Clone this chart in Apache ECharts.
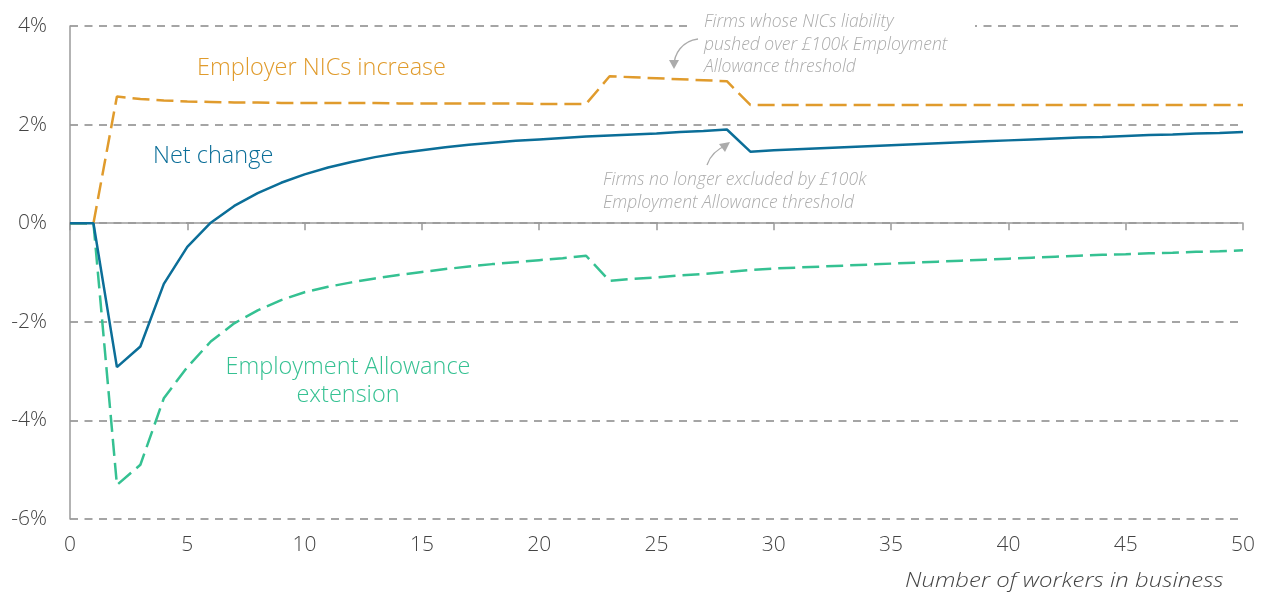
<!DOCTYPE html>
<html>
<head>
<meta charset="utf-8">
<title>Employer NICs vs Employment Allowance</title>
<script src="https://cdn.jsdelivr.net/npm/echarts@6/dist/echarts.min.js"></script>
<style>
  html, body { margin: 0; padding: 0; background: #fff; }
  #chart { width: 1269px; height: 594px; }
</style>
</head>
<body>
<div id="chart"></div>
<script>
// number of workers in business
const workers = Array.from({ length: 51 }, (_, i) => i)

const employerNics = [
  0, 0, 2.57, 2.52, 2.49, 2.47, 2.46, 2.45, 2.45, 2.44,
  2.44, 2.44, 2.44, 2.44, 2.43, 2.43, 2.43, 2.43, 2.43, 2.43,
  2.42, 2.42, 2.42, 2.98, 2.96, 2.94, 2.92, 2.90, 2.88, 2.40,
  2.40, 2.40, 2.40, 2.40, 2.40, 2.40, 2.40, 2.40, 2.40, 2.40,
  2.40, 2.40, 2.40, 2.40, 2.40, 2.40, 2.40, 2.40, 2.40, 2.40,
  2.40
]

const allowanceExt = [
  0, 0, -5.31, -4.90, -3.55, -2.92, -2.40, -2.03, -1.77, -1.56,
  -1.40, -1.29, -1.20, -1.12, -1.05, -0.99, -0.93, -0.88, -0.83, -0.79,
  -0.75, -0.71, -0.66, -1.17, -1.13, -1.10, -1.06, -1.03, -0.99, -0.95,
  -0.92, -0.90, -0.88, -0.86, -0.84, -0.82, -0.80, -0.78, -0.76, -0.74,
  -0.72, -0.70, -0.68, -0.66, -0.64, -0.63, -0.61, -0.60, -0.58, -0.57,
  -0.55
]

const netChange = [
  0, 0, -2.92, -2.50, -1.23, -0.48, 0.01, 0.35, 0.61, 0.82,
  0.99, 1.13, 1.24, 1.34, 1.42, 1.48, 1.54, 1.59, 1.63, 1.67,
  1.70, 1.73, 1.76, 1.78, 1.80, 1.82, 1.85, 1.87, 1.90, 1.45,
  1.48, 1.50, 1.52, 1.54, 1.56, 1.58, 1.60, 1.62, 1.64, 1.66,
  1.68, 1.70, 1.72, 1.74, 1.75, 1.77, 1.79, 1.80, 1.82, 1.83,
  1.85
]

const seriesNames = ['Employer NICs increase', 'Employment Allowance extension', 'Net change']
const colors = { nics: '#e09b2c', allowance: '#35c192', net: '#0b6e98' }

const font = '"Open Sans", "Noto Sans", sans-serif'
const annoColor = '#ababab'

const pair = (ys) => workers.map((x, i) => [x, ys[i]])

const chart = echarts.init(document.getElementById('chart'), null, { renderer: 'canvas' })

const option = {
  animation: false,
  backgroundColor: '#fff',
  textStyle: { fontFamily: font },
  grid: { left: 70, right: 26, top: 26, bottom: 75 },
  xAxis: [
    {
      // labels along the bottom
      type: 'value',
      min: 0,
      max: 50,
      interval: 5,
      axisLine: { show: false, onZero: false },
      axisTick: { show: false },
      splitLine: { show: false },
      axisLabel: { fontSize: 21, color: '#444', margin: 16, fontFamily: font, fontWeight: 300 }
    },
    {
      // axis line sitting on zero
      type: 'value',
      position: 'bottom',
      min: 0,
      max: 50,
      interval: 5,
      axisLine: { show: true, onZero: true, lineStyle: { color: '#9a9a9a', width: 1.5 } },
      axisTick: { show: true, length: 7, lineStyle: { color: '#9a9a9a', width: 1.5 } },
      axisLabel: { show: false },
      splitLine: { show: false }
    }
  ],
  yAxis: {
    type: 'value',
    min: -6,
    max: 4,
    interval: 2,
    axisLine: { show: true, lineStyle: { color: '#9a9a9a', width: 1.5 } },
    axisTick: { show: false },
    axisLabel: {
      fontSize: 21,
      color: '#444',
      margin: 23,
      fontFamily: font,
      fontWeight: 300,
      formatter: (v) => v + '%'
    },
    splitLine: {
      show: true,
      lineStyle: { color: '#a5a5a5', width: 2, type: [8, 6.5] }
    }
  },
  series: [
    {
      name: seriesNames[0],
      type: 'line',
      data: pair(employerNics),
      showSymbol: false,
      lineStyle: { color: colors.nics, width: 2.5, type: [17, 7] },
      z: 3
    },
    {
      name: seriesNames[1],
      type: 'line',
      data: pair(allowanceExt),
      showSymbol: false,
      lineStyle: { color: colors.allowance, width: 2.5, type: [17, 7] },
      z: 3
    },
    {
      name: seriesNames[2],
      type: 'line',
      data: pair(netChange),
      showSymbol: false,
      lineStyle: { color: colors.net, width: 2.5 },
      z: 4
    }
  ],
  graphic: [
    // white box behind the top annotation, breaking the 4% grid line
    { type: 'rect', shape: { x: 693, y: 14, width: 282, height: 22 }, style: { fill: '#fff' }, z: 10 },
    {
      type: 'text', x: 704, y: 11, z: 11,
      style: {
        text: 'Firms whose NICs liability\npushed over £100k Employment\nAllowance threshold',
        fill: annoColor, font: 'italic 300 17.5px ' + font, lineHeight: 22.5
      }
    },
    {
      type: 'bezierCurve', z: 11,
      shape: { x1: 698, y1: 39, x2: 674, y2: 66, cpx1: 682, cpy1: 41, cpx2: 674, cpy2: 54 },
      style: { stroke: annoColor, lineWidth: 1.3, fill: null }
    },
    {
      type: 'polygon', z: 11,
      shape: { points: [[669, 60], [679, 60], [674, 69]] },
      style: { fill: annoColor }
    },
    {
      type: 'text', x: 603, y: 169, z: 11,
      style: {
        text: 'Firms no longer excluded by £100k\nEmployment Allowance threshold',
        fill: annoColor, font: 'italic 300 17.5px ' + font, lineHeight: 22.5
      }
    },
    {
      type: 'bezierCurve', z: 11,
      shape: { x1: 707, y1: 165, x2: 727, y2: 145, cpx1: 710, cpy1: 156, cpx2: 717, cpy2: 149 },
      style: { stroke: annoColor, lineWidth: 1.3, fill: null }
    },
    {
      type: 'polygon', z: 11,
      shape: { points: [[730, 142], [719, 144], [725, 152]] },
      style: { fill: annoColor }
    },
    // series labels
    {
      type: 'text', x: 197, y: 56, z: 11,
      style: { text: seriesNames[0], fill: colors.nics, font: '300 23.5px ' + font }
    },
    {
      type: 'text', x: 153, y: 144, z: 11,
      style: { text: seriesNames[2], fill: colors.net, font: '300 23.5px ' + font }
    },
    {
      type: 'text', x: 348, y: 353, z: 11,
      style: {
        text: 'Employment Allowance\nextension',
        fill: colors.allowance, font: '300 23.5px ' + font, align: 'center', lineHeight: 28.5
      }
    },
    // x axis title
    {
      type: 'text', x: 905, y: 571, z: 11, scaleX: 1.14,
      style: { text: 'Number of workers in business', fill: '#444', font: 'italic 300 21px ' + font }
    }
  ]
}

chart.setOption(option)

window.addEventListener('resize', () => chart.resize())
</script>
</body>
</html>
